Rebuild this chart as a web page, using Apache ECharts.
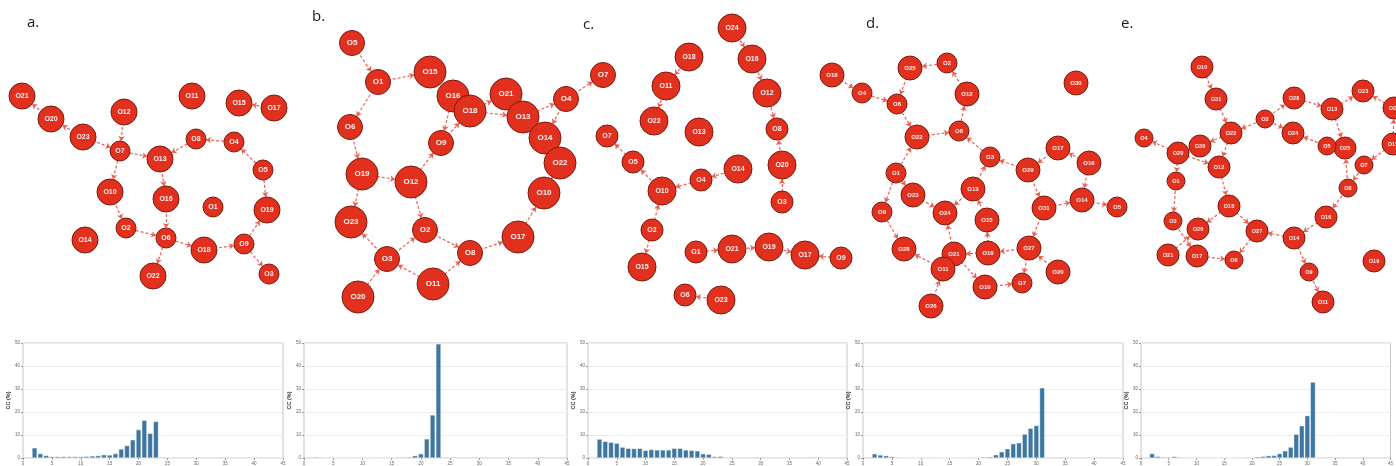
<!DOCTYPE html>
<html>
<head>
<meta charset="utf-8">
<script src="https://cdn.jsdelivr.net/npm/echarts@6/dist/echarts.min.js"></script>
<style>
  html, body { margin: 0; padding: 0; background: #ffffff; }
  #chart { width: 1396px; height: 466px; }
</style>
</head>
<body>
<div id="chart"></div>
<script>
// ---------- Histogram data: CC (%) per bin, bins start at 2 ----------
const binStart = 2;
const ccA = [4.4, 1.9, 1.1, 0.6, 0.6, 0.6, 0.6, 0.6, 0.6, 0.7, 0.9, 1.0, 1.4, 1.3, 1.9, 3.9, 5.4, 7.9, 12.3, 16.4, 10.7, 15.9];
const ccB = [0.4, 0.3, 0.2, 0.2, 0.2, 0.2, 0.2, 0.2, 0.2, 0.2, 0.2, 0.2, 0.2, 0.3, 0.3, 0.3, 0.4, 1.0, 1.8, 8.3, 18.7, 49.6];
const ccC = [8.2, 7.2, 6.8, 6.4, 4.7, 4.2, 4.1, 4.2, 3.3, 3.7, 3.5, 3.5, 3.5, 4.2, 4.2, 3.5, 3.3, 3.1, 1.8, 1.6, 0.6, 0.7, 0.3];
const ccD = [1.8, 1.3, 1.0, 0.6, 0.3, 0.15, 0.1, 0.1, 0.1, 0.1, 0.05, 0.05, 0.05, 0.1, 0.1, 0.1, 0.1, 0.15, 0.2, 0.4, 0.5, 1.4, 2.7, 4.0, 6.2, 6.6, 10.4, 12.9, 14.1, 30.5];
const ccE = [1.9, 0.7, 0.4, 0.3, 0.6, 0.3, 0.2, 0.2, 0.2, 0.2, 0.2, 0.2, 0.2, 0.2, 0.2, 0.2, 0.2, 0.3, 0.2, 0.5, 0.7, 1.0, 1.1, 1.9, 3.1, 4.7, 10.3, 14.0, 18.4, 33.0];

const ccTicksX = [0, 5, 10, 15, 20, 25, 30, 35, 40, 45];
const ccTicksY = [0, 10, 20, 30, 40, 50];
const panelLabels = ['a.', 'b.', 'c.', 'd.', 'e.'];

// ---------- Networks: [name, layoutX, layoutY] in layout units ----------
const netA_nodes = [
  ['O21', 2.2, 9.6], ['O20', 5.1, 11.9], ['O23', 8.3, 13.7], ['O12', 12.4, 11.2], ['O7', 12.0, 15.1],
  ['O13', 16.0, 15.9], ['O8', 19.6, 13.9], ['O4', 23.4, 14.2], ['O5', 26.3, 17.0], ['O19', 26.7, 21.0],
  ['O9', 24.4, 24.4], ['O3', 26.9, 27.4], ['O18', 20.4, 25.0], ['O6', 16.6, 23.8], ['O22', 15.3, 27.6],
  ['O2', 12.6, 22.8], ['O10', 11.0, 19.2], ['O16', 16.6, 19.9], ['O1', 21.3, 20.7], ['O14', 8.5, 24.0],
  ['O11', 19.2, 9.6], ['O15', 23.9, 10.3], ['O17', 27.4, 10.8]
];
const netA_small = ['O7', 'O8', 'O4', 'O5', 'O9', 'O3', 'O6', 'O2', 'O1'];
const netA_links = [
  ['O20', 'O21'], ['O23', 'O20'], ['O23', 'O7'], ['O12', 'O7'], ['O7', 'O13'], ['O8', 'O13'], ['O4', 'O8'],
  ['O5', 'O4'], ['O5', 'O19'], ['O9', 'O19'], ['O9', 'O3'], ['O18', 'O9'], ['O6', 'O18'], ['O6', 'O22'],
  ['O2', 'O6'], ['O10', 'O2'], ['O7', 'O10'], ['O13', 'O16'], ['O16', 'O6'], ['O17', 'O15']
];

const netB_nodes = [
  ['O5', 6.2, 4.3], ['O1', 8.8, 8.2], ['O15', 14.0, 7.2], ['O6', 6.0, 12.7], ['O16', 16.3, 9.6],
  ['O18', 18.0, 11.1], ['O21', 21.6, 9.4], ['O13', 23.3, 11.7], ['O4', 27.6, 9.9], ['O14', 25.5, 13.8],
  ['O22', 27.0, 16.3], ['O10', 25.4, 19.3], ['O9', 15.1, 14.3], ['O19', 7.2, 17.4], ['O12', 12.1, 18.2],
  ['O23', 6.1, 22.2], ['O2', 13.5, 23.0], ['O17', 22.8, 23.7], ['O8', 18.0, 25.3], ['O3', 9.7, 25.9],
  ['O11', 14.3, 28.4], ['O20', 6.8, 29.7], ['O7', 31.3, 7.5]
];
const netB_small = ['O5', 'O1', 'O6', 'O4', 'O9', 'O2', 'O8', 'O3', 'O7'];
const netB_links = [
  ['O5', 'O1'], ['O1', 'O15'], ['O1', 'O6'], ['O6', 'O19'], ['O19', 'O12'], ['O19', 'O23'], ['O3', 'O23'],
  ['O20', 'O3'], ['O11', 'O3'], ['O3', 'O2'], ['O12', 'O2'], ['O12', 'O9'], ['O2', 'O8'], ['O11', 'O8'],
  ['O8', 'O17'], ['O17', 'O10'], ['O22', 'O10'], ['O14', 'O22'], ['O4', 'O14'], ['O13', 'O4'],
  ['O18', 'O13'], ['O16', 'O9'], ['O9', 'O18'], ['O18', 'O21'], ['O4', 'O7'], ['O13', 'O14']
];

const netC_nodes = [
  ['O24', 16.2, 2.8], ['O16', 18.2, 5.9], ['O12', 19.7, 9.3], ['O8', 20.7, 12.9], ['O20', 21.2, 16.5],
  ['O3', 21.2, 20.2], ['O18', 11.9, 5.7], ['O11', 9.6, 8.6], ['O22', 8.4, 12.1], ['O13', 12.9, 13.2],
  ['O7', 3.7, 13.6], ['O5', 6.3, 16.2], ['O10', 9.2, 19.1], ['O4', 13.1, 18.0], ['O14', 16.8, 16.9],
  ['O2', 8.2, 23.0], ['O15', 7.2, 26.7], ['O1', 12.6, 25.2], ['O21', 16.2, 24.9], ['O19', 19.9, 24.7],
  ['O17', 23.5, 25.5], ['O9', 27.1, 25.8], ['O6', 11.5, 29.5], ['O23', 15.1, 30.0]
];
const netC_small = ['O8', 'O3', 'O7', 'O5', 'O4', 'O2', 'O1', 'O9', 'O6'];
const netC_links = [
  ['O24', 'O16'], ['O16', 'O12'], ['O12', 'O8'], ['O20', 'O8'], ['O3', 'O20'], ['O18', 'O11'], ['O11', 'O22'],
  ['O5', 'O7'], ['O10', 'O5'], ['O4', 'O10'], ['O14', 'O4'], ['O2', 'O10'], ['O2', 'O15'], ['O1', 'O21'],
  ['O21', 'O19'], ['O19', 'O17'], ['O9', 'O17'], ['O23', 'O6']
];

const netD_nodes = [
  ['O18', 0.2, 7.5], ['O4', 3.2, 9.3], ['O6', 6.7, 10.4], ['O25', 8.0, 6.8], ['O2', 11.7, 6.3],
  ['O12', 13.7, 9.4], ['O8', 12.9, 13.1], ['O22', 8.7, 13.7], ['O3', 16.0, 15.7], ['O29', 19.8, 17.0],
  ['O17', 22.8, 14.8], ['O16', 25.9, 16.3], ['O14', 25.2, 20.0], ['O5', 28.7, 20.7], ['O31', 21.4, 20.8],
  ['O1', 6.6, 17.3], ['O23', 8.3, 19.5], ['O9', 5.2, 21.2], ['O13', 14.3, 18.9], ['O24', 11.5, 21.3],
  ['O15', 15.7, 22.0], ['O28', 7.4, 24.9], ['O21', 12.4, 25.4], ['O19', 15.8, 25.3], ['O27', 19.9, 24.8],
  ['O20', 22.8, 27.2], ['O11', 11.3, 26.9], ['O10', 15.5, 28.7], ['O7', 19.2, 28.3], ['O26', 10.1, 30.6],
  ['O30', 24.6, 8.3]
];
const netD_small = ['O4', 'O6', 'O2', 'O8', 'O3', 'O5', 'O1', 'O9', 'O7'];
const netD_links = [
  ['O18', 'O4'], ['O4', 'O6'], ['O25', 'O6'], ['O2', 'O25'], ['O12', 'O2'], ['O8', 'O12'], ['O22', 'O8'],
  ['O6', 'O22'], ['O1', 'O22'], ['O3', 'O8'], ['O29', 'O3'], ['O17', 'O29'], ['O16', 'O17'], ['O16', 'O14'],
  ['O31', 'O14'], ['O14', 'O5'], ['O29', 'O31'], ['O31', 'O27'], ['O20', 'O27'], ['O27', 'O19'], ['O27', 'O7'],
  ['O10', 'O7'], ['O21', 'O10'], ['O19', 'O15'], ['O15', 'O13'], ['O13', 'O3'], ['O13', 'O24'], ['O21', 'O24'],
  ['O11', 'O28'], ['O26', 'O11'], ['O1', 'O9'], ['O9', 'O28'], ['O1', 'O23'], ['O23', 'O24'], ['O19', 'O21']
];

const netE_nodes = [
  ['O10', 9.2, 6.7], ['O31', 10.6, 9.9], ['O22', 12.1, 13.3], ['O4', 3.4, 13.8], ['O29', 6.8, 15.3],
  ['O30', 9.0, 14.6], ['O12', 10.9, 16.7], ['O1', 6.6, 18.1], ['O3', 6.3, 22.1], ['O20', 8.8, 22.9],
  ['O21', 5.8, 25.5], ['O17', 8.7, 25.6], ['O6', 12.4, 26.0], ['O18', 11.9, 20.6], ['O27', 14.7, 23.1],
  ['O14', 18.4, 23.8], ['O9', 19.9, 27.2], ['O11', 21.3, 30.2], ['O16', 21.6, 21.7], ['O8', 23.8, 18.8],
  ['O7', 25.4, 16.5], ['O25', 23.5, 14.8], ['O5', 21.7, 14.6], ['O24', 18.3, 13.3], ['O2', 15.5, 11.9],
  ['O28', 18.4, 9.8], ['O13', 22.2, 10.9], ['O23', 25.3, 9.1], ['O26', 28.4, 10.8], ['O15', 28.3, 14.4],
  ['O19', 26.4, 26.1]
];
const netE_small = ['O4', 'O1', 'O3', 'O6', 'O9', 'O8', 'O7', 'O5', 'O2'];
const netE_links = [
  ['O10', 'O31'], ['O31', 'O22'], ['O22', 'O30'], ['O29', 'O4'], ['O29', 'O12'], ['O22', 'O12'], ['O29', 'O1'],
  ['O1', 'O3'], ['O3', 'O17'], ['O21', 'O20'], ['O18', 'O20'], ['O12', 'O18'], ['O18', 'O27'], ['O17', 'O6'],
  ['O27', 'O6'], ['O14', 'O27'], ['O16', 'O14'], ['O14', 'O9'], ['O9', 'O11'], ['O8', 'O16'], ['O7', 'O8'],
  ['O8', 'O25'], ['O2', 'O22'], ['O2', 'O28'], ['O2', 'O24'], ['O28', 'O13'], ['O13', 'O23'], ['O13', 'O25'],
  ['O5', 'O24'], ['O26', 'O23'], ['O15', 'O26'], ['O15', 'O7']
];

// ---------- Panel layout and styling ----------
const panels = [
  { nodes: netA_nodes, small: netA_small, links: netA_links, cc: ccA, netLeft: 0,    big: 26, sm: 20, font: 7,   histLeft: 23,   histWidth: 260, labelPos: [27, 15] },
  { nodes: netB_nodes, small: netB_small, links: netB_links, cc: ccB, netLeft: 290,  big: 32, sm: 25, font: 8,   histLeft: 304,  histWidth: 263, labelPos: [312, 9] },
  { nodes: netC_nodes, small: netC_small, links: netC_links, cc: ccC, netLeft: 570,  big: 28, sm: 22, font: 7,   histLeft: 588,  histWidth: 259, labelPos: [583, 17] },
  { nodes: netD_nodes, small: netD_small, links: netD_links, cc: ccD, netLeft: 830,  big: 24, sm: 20, font: 6,   histLeft: 863,  histWidth: 260, labelPos: [866, 16] },
  { nodes: netE_nodes, small: netE_small, links: netE_links, cc: ccE, netLeft: 1110, big: 22, sm: 18, font: 5.5, histLeft: 1141, histWidth: 256, labelPos: [1121, 16] }
];

const NODE_RED = '#e2301f';
const NODE_EDGE = '#7d1a10';
const LINK_RED = '#ea5a4c';
const BAR_BLUE = '#3d76a0';
const FONT = 'Liberation Sans, Arial, sans-serif';

// layout space of every network panel: 28 x 32 units, 10 px per unit
const NET_W = 28, NET_H = 32, UNIT_PX = 10;

const grid = [], xAxis = [], yAxis = [], series = [], title = [];

panels.forEach((p, i) => {
  // network grid (hidden axes carry the layout units)
  const gi = grid.length;
  grid.push({ left: p.netLeft, top: 0, width: NET_W * UNIT_PX, height: NET_H * UNIT_PX, show: false });
  xAxis.push({ type: 'value', gridIndex: gi, min: 0, max: NET_W, show: false });
  yAxis.push({ type: 'value', gridIndex: gi, min: 0, max: NET_H, inverse: true, show: false });

  series.push({
    type: 'graph',
    coordinateSystem: 'cartesian2d',
    xAxisIndex: gi,
    yAxisIndex: gi,
    silent: true,
    z: 3,
    edgeSymbol: ['none', 'arrow'],
    edgeSymbolSize: 5,
    data: p.nodes.map(([name, x, y]) => ({
      name,
      value: [x, y],
      symbolSize: p.small.includes(name) ? p.sm : p.big
    })),
    links: p.links.map(([s, t]) => ({ source: s, target: t })),
    itemStyle: { color: NODE_RED, borderColor: NODE_EDGE, borderWidth: 1 },
    lineStyle: { color: LINK_RED, width: 1.2, type: [3, 2], opacity: 0.95, curveness: 0 },
    label: {
      show: true, position: 'inside', formatter: '{b}',
      color: '#fff3f0', fontSize: p.font, fontWeight: 'bold', fontFamily: FONT
    },
    emphasis: { disabled: true }
  });

  // histogram grid
  const hi = grid.length;
  grid.push({
    left: p.histLeft, top: 343, width: p.histWidth, height: 116,
    show: true, borderColor: '#c6c6c6', borderWidth: 1
  });
  xAxis.push({
    type: 'value', gridIndex: hi, min: ccTicksX[0], max: ccTicksX[ccTicksX.length - 1], interval: 5,
    axisLine: { show: false },
    axisTick: { show: true, length: 2, lineStyle: { color: '#999' } },
    axisLabel: { fontSize: 4.5, color: '#666', margin: 3, fontFamily: FONT },
    splitLine: { show: false }
  });
  yAxis.push({
    type: 'value', gridIndex: hi, min: ccTicksY[0], max: ccTicksY[ccTicksY.length - 1], interval: 10,
    name: 'CC (%)', nameLocation: 'middle', nameGap: 9,
    nameTextStyle: { fontSize: 5.5, fontWeight: 'bold', color: '#333', fontFamily: FONT },
    axisLine: { show: false },
    axisTick: { show: true, length: 2, lineStyle: { color: '#999' } },
    axisLabel: { fontSize: 4.5, color: '#666', margin: 3, fontFamily: FONT },
    splitLine: { show: true, lineStyle: { color: '#ececec', width: 1 } }
  });
  series.push({
    type: 'bar',
    xAxisIndex: hi,
    yAxisIndex: hi,
    barWidth: 5,
    silent: true,
    data: p.cc.map((v, k) => [binStart + k, v]),
    itemStyle: { color: BAR_BLUE, borderColor: '#ffffff', borderWidth: 0.4 }
  });

  title.push({
    text: panelLabels[i],
    left: p.labelPos[0], top: p.labelPos[1],
    padding: 0,
    textStyle: { fontSize: 15, fontWeight: 'normal', color: '#1a1a1a', fontFamily: 'Open Sans, Liberation Sans, sans-serif' }
  });
});

const chart = echarts.init(document.getElementById('chart'), null, { renderer: 'canvas' });
chart.setOption({
  animation: false,
  backgroundColor: '#ffffff',
  title,
  grid,
  xAxis,
  yAxis,
  series
});
</script>
</body>
</html>
